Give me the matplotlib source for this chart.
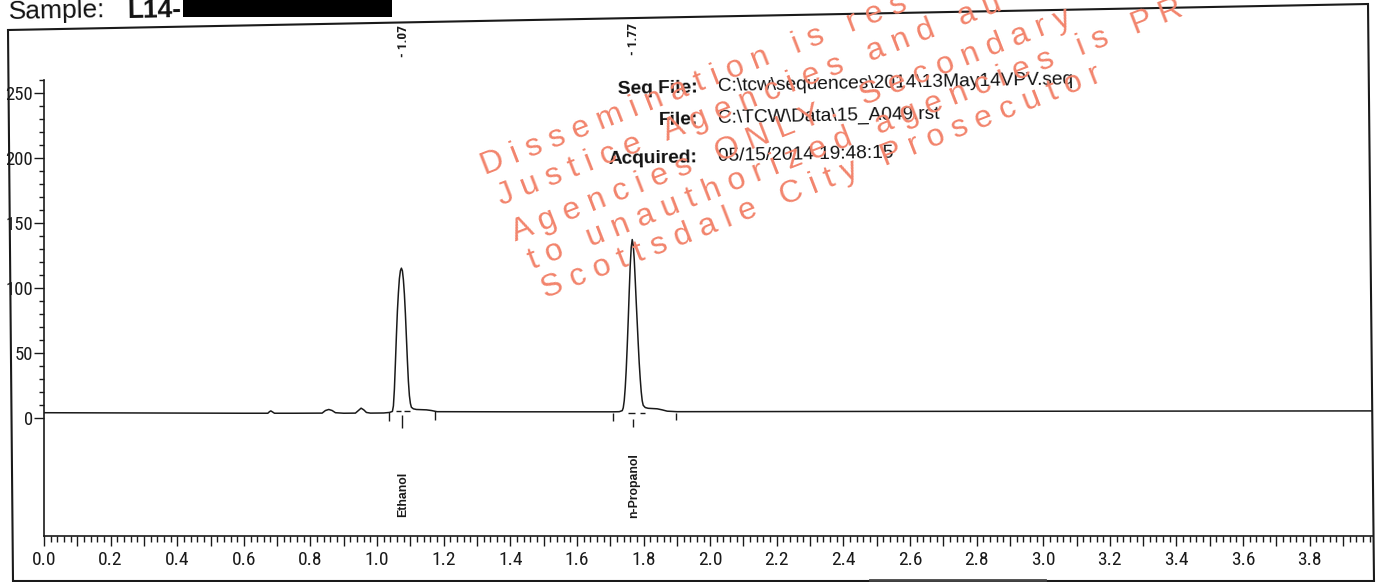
import matplotlib
matplotlib.use("Agg")
import matplotlib.pyplot as plt
from matplotlib.patches import Polygon, Rectangle
from matplotlib.lines import Line2D
import numpy as np

W, H = 1380, 582

# ---------------- data ----------------
trace_time = [0.00, 0.30, 0.60, 0.672, 0.677, 0.681, 0.686, 0.692, 0.75,
              0.835, 0.845, 0.855, 0.865, 0.875, 0.90, 0.935, 0.944, 0.952,
              0.960, 0.968, 0.98, 1.02, 1.037, 1.046, 1.049, 1.052, 1.055,
              1.058, 1.061, 1.064, 1.067, 1.070, 1.073, 1.076, 1.079, 1.082,
              1.085, 1.088, 1.091, 1.094, 1.097, 1.100, 1.103, 1.109, 1.118,
              1.148, 1.163, 1.180, 1.40, 1.60, 1.71, 1.727, 1.736, 1.739,
              1.742, 1.745, 1.748, 1.751, 1.754, 1.757, 1.760, 1.763, 1.766,
              1.769, 1.772, 1.775, 1.778, 1.781, 1.784, 1.787, 1.790, 1.793,
              1.796, 1.799, 1.805, 1.814, 1.841, 1.856, 1.871, 1.90, 2.50,
              3.20, 3.99]
trace_signal = [3.8, 3.6, 3.4, 3.4, 4.6, 5.2, 4.4, 3.4, 3.4,
                3.5, 5.5, 6.3, 5.5, 3.8, 3.4, 3.5, 5.5, 7.3,
                6.0, 4.0, 3.5, 3.6, 4.0, 4.8, 9, 22, 42,
                63, 82, 96, 107, 113, 115, 113, 106, 95,
                80, 62, 44, 28, 17, 11, 8, 6.8, 6.3,
                6.0, 5.5, 4.6, 4.5, 4.5, 4.5, 4.6, 5.4, 7.5,
                13, 23, 37, 55, 75, 97, 117, 131, 137,
                133, 122, 106, 89, 73, 57, 42, 30, 20,
                13, 9.5, 7.8, 7.2, 6.8, 6.0, 5.0, 4.6, 4.8,
                5.0, 5.2]

peak_names = ["Ethanol", "n-Propanol"]
peak_rt_text = ["- 1.07", "- 1.77"]
peak_label_time = [1.079, 1.771]
peak_name_level = [-58.8, -52.6]
peak_rt_level = [290, 291]

# integration markers (start / apex / end ticks below the baseline)
marker_time = [1.035, 1.076, 1.175, 1.709, 1.769, 1.896]
marker_top = [4.0, 1.8, 5.2, 3.9, -1.0, 3.5]
marker_bottom = [-2.9, -7.8, -1.9, -2.8, -7.3, -2.1]
# dashed baseline segments under the peaks
dash_start = [1.057, 1.081, 1.754, 1.790]
dash_end = [1.072, 1.099, 1.775, 1.805]
dash_level = [4.9, 4.9, 3.6, 3.6]

x_label_values = [0.0, 0.2, 0.4, 0.6, 0.8, 1.0, 1.2, 1.4, 1.6, 1.8,
                  2.0, 2.2, 2.4, 2.6, 2.8, 3.0, 3.2, 3.4, 3.6, 3.8]
x_tick_labels = ["0.0", "0.2", "0.4", "0.6", "0.8", "1.0", "1.2", "1.4",
                 "1.6", "1.8", "2.0", "2.2", "2.4", "2.6", "2.8", "3.0",
                 "3.2", "3.4", "3.6", "3.8"]
y_tick_values = [0, 50, 100, 150, 200, 250]
y_tick_labels = ["0", "50", "100", "150", "200", "250"]

info_keys = ["Seq File:", "File:", "Acquired:"]
info_values = ["C:\\tcw\\sequences\\2014\\13May14VPV.seq",
               "C:\\TCW\\Data\\15_A049.rst",
               "05/15/2014 19:48:15"]

# visible part of the stamp (the rest runs off the page)
watermark_lines = ["Dissemination is res",
                   "Justice Agencies and au",
                   "Agencies ONLY. Secondary",
                   "to unauthorized agencies is PR",
                   "Scottsdale City Prosecutor"]

# ---------------- figure ----------------
NARROW = ["Liberation Sans Narrow", "Roboto Condensed", "Liberation Sans", "DejaVu Sans"]
SANS = ["Liberation Sans", "DejaVu Sans"]
plt.rcParams["font.family"] = NARROW

fig = plt.figure(figsize=(W / 100, H / 100), dpi=100)
fig.patch.set_facecolor("white")


def px(x, y):
    return (x / W, 1 - y / H)


# outer frame
frame = Polygon([px(8, 30), px(1368, 4), px(1374, 581), px(13, 581)],
                closed=True, fill=False, edgecolor="#1a1a1a", linewidth=1.5,
                transform=fig.transFigure)
fig.add_artist(frame)

# axes
ax_l, ax_r, ax_t, ax_b = 44, 1373, 17, 535.7
ax = fig.add_axes([ax_l / W, 1 - ax_b / H, (ax_r - ax_l) / W, (ax_b - ax_t) / H])
ax.patch.set_alpha(0)
ax.set_xlim(0, 3.99)
ax.set_ylim(-90.8, 308.2)
for s in ["top", "right"]:
    ax.spines[s].set_visible(False)
ax.spines["left"].set_bounds(-90.8, 260)
for s in ["left", "bottom"]:
    ax.spines[s].set_linewidth(1.2)
    ax.spines[s].set_color("#1a1a1a")

major_x = np.round(np.arange(0, 3.95, 0.1), 2)
major_x_labels = []
for v in major_x:
    match = [lbl for val, lbl in zip(x_label_values, x_tick_labels) if abs(val - v) < 1e-6]
    major_x_labels.append(match[0] if match else "")
ax.set_xticks(major_x, major_x_labels)
ax.set_xticks(np.round(np.arange(0, 3.99, 0.02), 2), minor=True)
ax.set_yticks(y_tick_values, y_tick_labels)
ax.set_yticks(np.arange(0, 261, 10), minor=True)

ax.tick_params(axis="x", which="major", direction="out", length=7, width=1.0,
               pad=4, labelsize=14, colors="#1a1a1a")
ax.tick_params(axis="x", which="minor", direction="out", length=4.2, width=1.0,
               colors="#1a1a1a")
ax.tick_params(axis="y", which="major", direction="out", length=7, width=1.0,
               pad=0.8, labelsize=13.5, colors="#1a1a1a")
ax.tick_params(axis="y", which="minor", direction="out", length=3.8, width=1.0,
               colors="#1a1a1a")

# chromatogram trace
ax.plot(trace_time, trace_signal, color="#1a1a1a", linewidth=1.1, zorder=3)

# integration markers
ax.vlines(marker_time, marker_bottom, marker_top, color="#1a1a1a", linewidth=1.0)
ax.hlines(dash_level, dash_start, dash_end, color="#1a1a1a", linewidth=1.0)

# peak annotations
for t, name, lvl in zip(peak_label_time, peak_names, peak_name_level):
    ax.text(t, lvl, name, rotation=90, ha="center", va="center", fontsize=8.8,
            fontweight="bold", family=SANS, color="#1a1a1a")
for t, txt, lvl in zip(peak_label_time, peak_rt_text, peak_rt_level):
    ax.text(t, lvl, txt, rotation=90, ha="center", va="center", fontsize=9.5,
            family=NARROW, fontweight="bold", color="#1a1a1a")

# header
fig.text(*px(9, 19), "Sample:", fontsize=19, family=SANS, ha="left",
         va="baseline", rotation=1.1, rotation_mode="anchor", color="#111")
fig.text(*px(127, 18), "L14-", fontsize=19, family=SANS, fontweight="bold",
         ha="left", va="baseline", rotation=1.1, rotation_mode="anchor", color="#111")
fig.add_artist(Rectangle(px(183, 17), 209 / W, 17 / H, transform=fig.transFigure,
                         facecolor="black", edgecolor="none"))

# info block
key_base = [92, 124, 162]
val_base = [91, 123, 161]
for k, v, kb, vb in zip(info_keys, info_values, key_base, val_base):
    fig.text(*px(698, kb), k, fontsize=13.8, family=SANS, fontweight="bold",
             ha="right", va="baseline", rotation=1.1, rotation_mode="anchor",
             color="#111")
    fig.text(*px(718, vb), v, fontsize=13.8, family=SANS, ha="left",
             va="baseline", rotation=1.1, rotation_mode="anchor", color="#111")

# stray scan line at the bottom
fig.add_artist(Line2D([870 / W, 1045 / W], [1 - 579.5 / H, 1 - 579.5 / H],
                      color="#444", linewidth=2, transform=fig.transFigure))


# watermark stamp
def spaced(s):
    return "   ".join(" ".join(word) for word in s.split(" "))


wm_pos = [(485, 175), (501, 205), (515, 241), (532, 269), (545, 298)]
for (x, y), line in zip(wm_pos, watermark_lines):
    fig.text(*px(x, y), spaced(line), fontsize=23, family=SANS,
             color="#F2846C", ha="left", va="baseline", rotation=21.3,
             rotation_mode="anchor", zorder=10)

fig.savefig("out.png", dpi=100)
